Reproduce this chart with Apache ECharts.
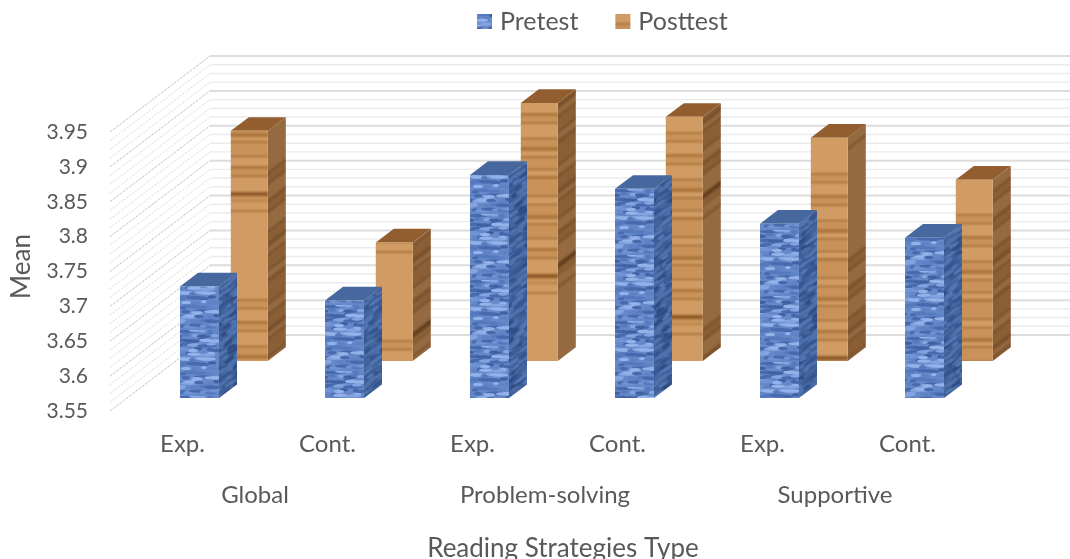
<!DOCTYPE html>
<html>
<head>
<meta charset="utf-8">
<title>Mean reading strategy scores</title>
<style>html,body{margin:0;padding:0;background:#fff}#chart{width:1070px;height:559px}</style>
<script src="https://cdn.jsdelivr.net/npm/echarts@6/dist/echarts.min.js"></script>
</head>
<body>
<div id="chart"></div>
<script>
// Chart values
const groupLabels = ['Exp.', 'Cont.', 'Exp.', 'Cont.', 'Exp.', 'Cont.'];
const strategyTypes = ['Global', 'Problem-solving', 'Supportive'];
const pretest = [3.71, 3.69, 3.87, 3.85, 3.80, 3.78];
const posttest = [3.88, 3.72, 3.92, 3.90, 3.87, 3.81];
const axisMin = 3.55;
const axisMax = 3.95;
const axisStep = 0.05;

// Oblique projection of the box: a point at depth d (0 front, 1 back wall)
const DEPTH_X = 100, DEPTH_Y = 76;
const TEXT = '#595959';
const FONT = 'Lato';

function project(x, y, d) {
  return [x + DEPTH_X * d, y - DEPTH_Y * d];
}

// Surface textures for the bars: painted once, softened across the tile's wrap
function makeTile(w, h, blur, paint) {
  const raw = document.createElement('canvas');
  raw.width = w; raw.height = h;
  paint(raw.getContext('2d'), w, h);
  const wide = document.createElement('canvas');
  wide.width = w * 3; wide.height = h * 3;
  const wideCtx = wide.getContext('2d');
  for (let ox = 0; ox < 3; ox++) for (let oy = 0; oy < 3; oy++) wideCtx.drawImage(raw, ox * w, oy * h);
  const soft = document.createElement('canvas');
  soft.width = w; soft.height = h;
  const ctx = soft.getContext('2d');
  ctx.filter = 'blur(' + blur + 'px)';
  ctx.drawImage(wide, -w, -h);
  return soft;
}

const woodBands = [9, 2, 7, 1, 12, 3, 6, 2, 14, 1, 8, 4, 5, 2, 11, 1, 6, 3, 16, 2, 7, 1, 10, 4, 4, 2, 13, 1, 9, 3, 6, 2, 15, 4, 5, 1, 8, 2];
function woodTile(light, alt, dark, deep) {
  return makeTile(16, 290, 0.8, (ctx, w, h) => {
    let y = 0;
    woodBands.forEach((bh, i) => {
      ctx.fillStyle = i % 2 ? (i % 6 === 3 ? deep : dark) : (i % 4 ? alt : light);
      ctx.fillRect(0, y, w, bh + 1);
      y += bh;
    });
    ctx.fillStyle = light;
    ctx.fillRect(0, y, w, h - y);
  });
}

const marbleWidths = [7, 4, 9, 5, 3, 8, 6, 10, 4];
function marbleTile(base, shades) {
  return makeTile(73, 66, 0.7, (ctx, w, h) => {
    ctx.fillStyle = base;
    ctx.fillRect(0, 0, w, h);
    for (let r = 0; r < 14; r++) {
      for (let c = 0; c < 9; c++) {
        ctx.fillStyle = shades[(r * 5 + c * 3 + (r * c) % 5) % shades.length];
        const rx = marbleWidths[(r * 2 + c * 5) % marbleWidths.length];
        const x = (c * 8 + r * 13 + (r * c) % 7) % w;
        const y = r * 4.7 + (c % 3) * 0.8;
        for (const ox of [0, -w]) {
          ctx.beginPath();
          ctx.ellipse(x + ox, y, rx, 1.7, 0, 0, Math.PI * 2);
          ctx.fill();
        }
      }
    }
  });
}

const blueFront = marbleTile('#6688c8', ['#84a4e0', '#4769ad', '#7093d4', '#5579bd', '#94b2ea', '#5e82c6', '#3f60a2']);
const blueSide = marbleTile('#3e5d97', ['#4f72ad', '#2e4c82', '#46679f', '#34558f', '#5376b2']);
const woodFront = woodTile('#d09c63', '#c99258', '#ac763c', '#8f5a28');
const woodSide = woodTile('#956a40', '#8b5f36', '#79502b', '#5f3c1d');

const SIDE_ANGLE = -0.65;
const barStyles = {
  Pretest: { depth: 0.17, depthSize: 0.18, shift: 0, width: 39, front: blueFront, side: blueSide, top: '#47689f' },
  Posttest: { depth: 0.658, depthSize: 0.18, shift: 1, width: 37, front: woodFront, side: woodSide, top: '#925e30' }
};

function renderBar(name) {
  const s = barStyles[name];
  return function (params, api) {
    const i = api.value(0);
    const top = api.coord([i, api.value(1)]);
    const base = api.coord([i, axisMin]);
    const xl = top[0] + s.shift - s.width / 2;
    const xr = xl + s.width;
    const d0 = s.depth, d1 = s.depth + s.depthSize;
    const offset = i * 41;
    return {
      type: 'group',
      children: [
        {
          type: 'polygon',
          shape: { points: [project(xr, base[1], d0), project(xr, base[1], d1), project(xr, top[1], d1), project(xr, top[1], d0)] },
          style: { fill: { image: s.side, repeat: 'repeat', rotation: SIDE_ANGLE, y: offset } }
        },
        {
          type: 'polygon',
          shape: { points: [project(xl, top[1], d0), project(xr, top[1], d0), project(xr, top[1], d1), project(xl, top[1], d1)] },
          style: { fill: s.top }
        },
        {
          type: 'polygon',
          shape: { points: [project(xl, base[1], d0), project(xr, base[1], d0), project(xr, top[1], d0), project(xl, top[1], d0)] },
          style: { fill: { image: s.front, repeat: 'repeat', y: offset } }
        }
      ]
    };
  };
}

// Gridlines on the back and side walls, four steps between labelled values
const wallLevels = [];
const stepsPerTick = 4;
const tickCount = Math.round((axisMax - axisMin) / axisStep);
for (let t = 0; t <= tickCount * stepsPerTick; t++) {
  wallLevels.push([axisMin + t * axisStep / stepsPerTick, t % stepsPerTick === 0 ? 1 : 0]);
}

function renderWall(params, api) {
  const v = api.value(0), major = api.value(1) === 1;
  const sys = params.coordSys;
  const y = api.coord([0, v])[1];
  const front = project(sys.x, y, 0);
  const back = project(sys.x, y, 1);
  return {
    type: 'group',
    children: [
      {
        type: 'line',
        shape: { x1: back[0], y1: back[1], x2: back[0] + sys.width + 10, y2: back[1] },
        style: { stroke: major ? '#dcdcdc' : '#ebebeb', lineWidth: major ? 2 : 1.4 }
      },
      {
        type: 'line',
        shape: { x1: front[0], y1: front[1], x2: back[0], y2: back[1] },
        style: { stroke: major ? '#c4c4c4' : '#dadada', lineWidth: 1, lineDash: major ? [3, 1] : [2, 1.5] }
      }
    ]
  };
}

const chart = echarts.init(document.getElementById('chart'), null, { renderer: 'canvas' });
chart.setOption({
  animation: false,
  backgroundColor: '#ffffff',
  textStyle: { fontFamily: FONT, color: TEXT },
  legend: {
    left: 472,
    top: 4,
    itemWidth: 15,
    itemHeight: 15,
    itemGap: 37,
    selectedMode: false,
    textStyle: { fontFamily: FONT, fontSize: 25, color: TEXT, padding: [0, 0, 0, 3] },
    data: [
      { name: 'Pretest', icon: 'rect', itemStyle: { color: { image: blueFront, repeat: 'repeat' } } },
      { name: 'Posttest', icon: 'rect', itemStyle: { color: { image: woodFront, repeat: 'repeat' } } }
    ]
  },
  grid: { left: 110, top: 132, width: 870, height: 279, outerBoundsMode: 'none' },
  xAxis: [
    {
      type: 'category',
      data: groupLabels,
      axisLine: { show: false },
      axisTick: { show: false },
      axisLabel: { color: TEXT, fontFamily: FONT, fontSize: 24, margin: 21, interval: 0 }
    },
    {
      type: 'category',
      position: 'bottom',
      offset: 52,
      data: strategyTypes,
      axisLine: { show: false },
      axisTick: { show: false },
      axisLabel: { color: TEXT, fontFamily: FONT, fontSize: 24, margin: 20, interval: 0 },
      name: 'Reading Strategies Type',
      nameLocation: 'middle',
      nameGap: 73,
      nameTextStyle: { color: TEXT, fontFamily: FONT, fontSize: 26, padding: [0, 0, 0, 36] }
    }
  ],
  yAxis: {
    type: 'value',
    min: axisMin,
    max: axisMax,
    interval: axisStep,
    axisLine: { show: false },
    axisTick: { show: false },
    splitLine: { show: false },
    axisLabel: {
      color: TEXT, fontFamily: FONT, fontSize: 21, margin: 22, padding: [3, 0, 0, 0],
      formatter: v => String(Math.round(v * 100) / 100)
    },
    name: 'Mean',
    nameLocation: 'middle',
    nameGap: 75,
    nameTextStyle: { color: TEXT, fontFamily: FONT, fontSize: 26, padding: [0, 0, 0, 10] }
  },
  series: [
    {
      type: 'custom',
      name: 'walls',
      data: wallLevels,
      encode: { y: 0 },
      renderItem: renderWall,
      clip: false,
      silent: true,
      z: 1
    },
    {
      type: 'custom',
      name: 'Posttest',
      data: posttest.map((v, i) => [i, v]),
      encode: { x: 0, y: 1 },
      renderItem: renderBar('Posttest'),
      clip: false,
      z: 2
    },
    {
      type: 'custom',
      name: 'Pretest',
      data: pretest.map((v, i) => [i, v]),
      encode: { x: 0, y: 1 },
      renderItem: renderBar('Pretest'),
      clip: false,
      z: 3
    }
  ]
});
</script>
</body>
</html>
